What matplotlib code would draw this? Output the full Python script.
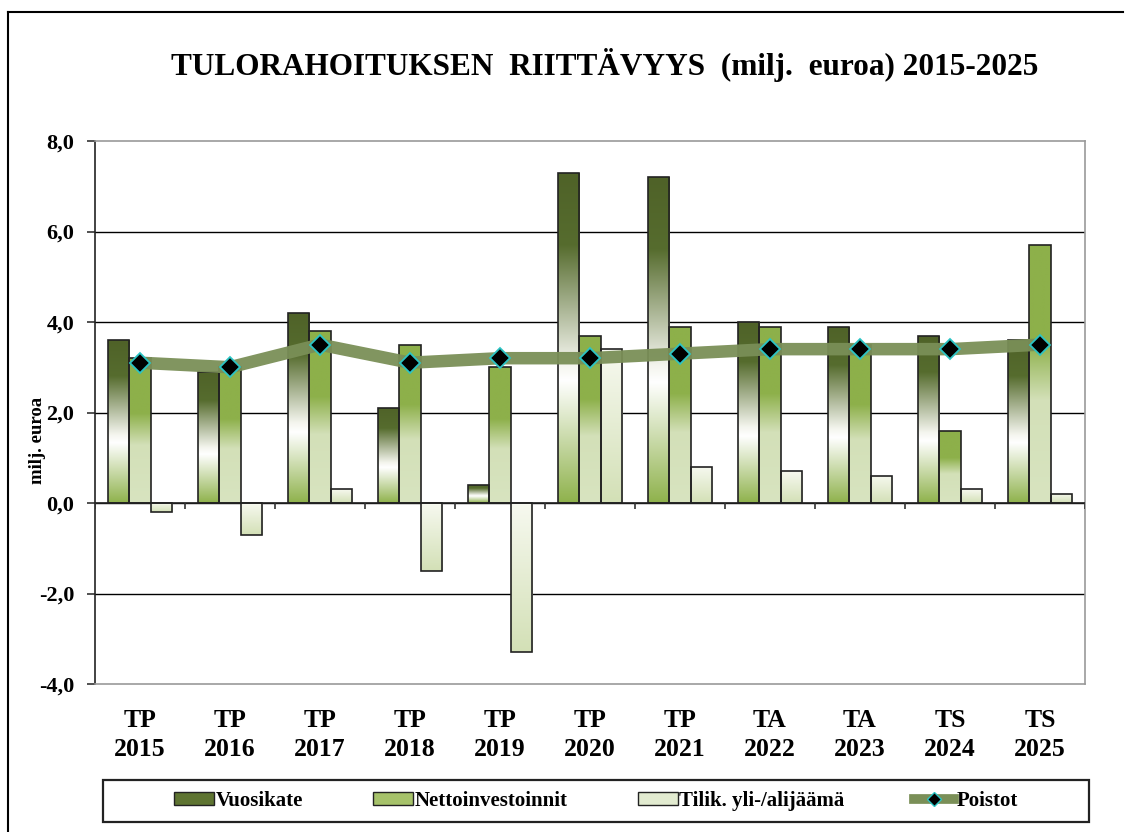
import numpy as np
import matplotlib
matplotlib.use("Agg")
import matplotlib.pyplot as plt
from matplotlib.colors import LinearSegmentedColormap
from matplotlib.patches import Rectangle
from matplotlib.lines import Line2D

categories = ["TP\n2015", "TP\n2016", "TP\n2017", "TP\n2018", "TP\n2019", "TP\n2020",
              "TP\n2021", "TA\n2022", "TA\n2023", "TS\n2024", "TS\n2025"]
vuosikate = [3.6, 2.9, 4.2, 2.1, 0.4, 7.3, 7.2, 4.0, 3.9, 3.7, 3.6]
nettoinv = [3.2, 3.0, 3.8, 3.5, 3.0, 3.7, 3.9, 3.9, 3.5, 1.6, 5.7]
tilik = [-0.2, -0.7, 0.3, -1.5, -3.3, 3.4, 0.8, 0.7, 0.6, 0.3, 0.2]
poistot = [3.1, 3.0, 3.5, 3.1, 3.2, 3.2, 3.3, 3.4, 3.4, 3.4, 3.5]
yticks = [-4, -2, 0, 2, 4, 6, 8]
ytick_labels = ["-4,0", "-2,0", "0,0", "2,0", "4,0", "6,0", "8,0"]

serif = "Liberation Serif"
plt.rcParams["font.family"] = [serif, "DejaVu Serif"]

# gradients (top -> bottom)
cm_vuosi = LinearSegmentedColormap.from_list("v", [(0, "#4F6228"), (0.22, "#566C2E"), (0.58, "#F4F5EE"),
                                                    (0.63, "#FFFFFF"), (1.0, "#8FB24C")])
cm_netto = LinearSegmentedColormap.from_list("n", [(0, "#8DB04A"), (0.38, "#8DB04A"), (0.6, "#D3E0B8"),
                                                    (1.0, "#D8E4C0")])
cm_tilik = LinearSegmentedColormap.from_list("t", [(0, "#F7F9F0"), (1.0, "#D3E0B6")])

fig = plt.figure(figsize=(11.26, 8.32), dpi=100)
ax = fig.add_axes([95/1126, 1-684/832, 990/1126, 543/832])

x = np.arange(len(categories))
w = 0.235
grad = np.linspace(0, 1, 256).reshape(-1, 1)

def gradient_bars(xs, vals, cmap, z=3):
    for xi, v in zip(xs, vals):
        lo, hi = min(0, v), max(0, v)
        rect = Rectangle((xi - w/2, lo), w, hi - lo, facecolor="none",
                         edgecolor="#222222", linewidth=1.2, zorder=z+0.1)
        ax.add_patch(rect)
        im = ax.imshow(grad, cmap=cmap, aspect="auto", extent=(xi - w/2, xi + w/2, lo, hi),
                       origin="upper", zorder=z, interpolation="bilinear")
        im.set_clip_path(rect)

gradient_bars(x - w, vuosikate, cm_vuosi)
gradient_bars(x, nettoinv, cm_netto)
gradient_bars(x + w, tilik, cm_tilik)
ax.set_xlim(-0.5, len(categories) - 0.5)
ax.set_ylim(-4, 8)

ax.plot(x, poistot, color="#7A8F57", linewidth=9, solid_capstyle="butt", zorder=5, alpha=0.95)
ax.plot(x, poistot, linestyle="none", marker="D", markersize=10, markerfacecolor="black",
        markeredgecolor="#2CC4C4", markeredgewidth=1.3, zorder=6)

# grid & zero line
for yv in yticks:
    if yv not in (-4, 8):
        ax.axhline(yv, color="black", linewidth=1.0, zorder=1)
ax.axhline(0, color="#222222", linewidth=1.2, zorder=4)
ax.vlines(np.arange(len(categories) + 1) - 0.5, -0.14, 0, color="#333333", linewidth=1.2, zorder=4)

for s in ax.spines.values():
    s.set_color("#999999")
    s.set_linewidth(1.2)
ax.spines["left"].set_color("#222222")

ax.set_yticks(yticks)
ax.set_yticklabels(ytick_labels, fontsize=16, fontweight="bold")
ax.tick_params(axis="y", length=6, width=1.1, direction="out", pad=9, colors="#222222", labelcolor="black")
ax.set_xticks(x)
ax.set_xticklabels(categories, fontsize=18.5, fontweight="bold", linespacing=1.35)
ax.tick_params(axis="x", length=0, pad=18)
ax.set_ylabel("milj. euroa", fontsize=13.5, fontweight="bold")
ax.yaxis.set_label_coords(-0.049, 0.449)

fig.text(0.537, 0.922, "TULORAHOITUKSEN  RIITTÄVYYS  (milj.  euroa) 2015-2025",
         ha="center", va="center", fontsize=22.5, fontweight="bold")

# legend
handles = [Rectangle((0, 0), 1, 1, facecolor="#5E7431", edgecolor="#222222"),
           Rectangle((0, 0), 1, 1, facecolor="#A6C26A", edgecolor="#222222"),
           Rectangle((0, 0), 1, 1, facecolor="#E2EBD0", edgecolor="#222222"),
           Line2D([], [], color="#7A8F57", linewidth=7, marker="D", markersize=7,
                  markerfacecolor="black", markeredgecolor="#2CC4C4")]
labels = ["Vuosikate", "Nettoinvestoinnit", "Tilik. yli-/alijäämä", "Poistot"]
fig.add_artist(Rectangle((103/1126, 1-822/832), 986/1126, 42/832, transform=fig.transFigure,
                         facecolor="white", edgecolor="#222222", linewidth=1.6, zorder=1))
leg = fig.legend(handles, labels, loc="center", ncol=4,
                 bbox_to_anchor=(596/1126, 1-801/832),
                 frameon=False, prop={"family": serif, "weight": "bold", "size": 15},
                 handlelength=1.92, handleheight=0.55, handletextpad=0.08, borderaxespad=0,
                 columnspacing=3.35, borderpad=0.2)
leg.set_zorder(2)

# outer frame (top and left)
fig.add_artist(Line2D([8/1126, 1123/1126], [1-12/832, 1-12/832], color="black", linewidth=1.5))
fig.add_artist(Line2D([8/1126, 8/1126], [0, 1-12/832], color="black", linewidth=1.5))

fig.savefig("out.png", dpi=100)
